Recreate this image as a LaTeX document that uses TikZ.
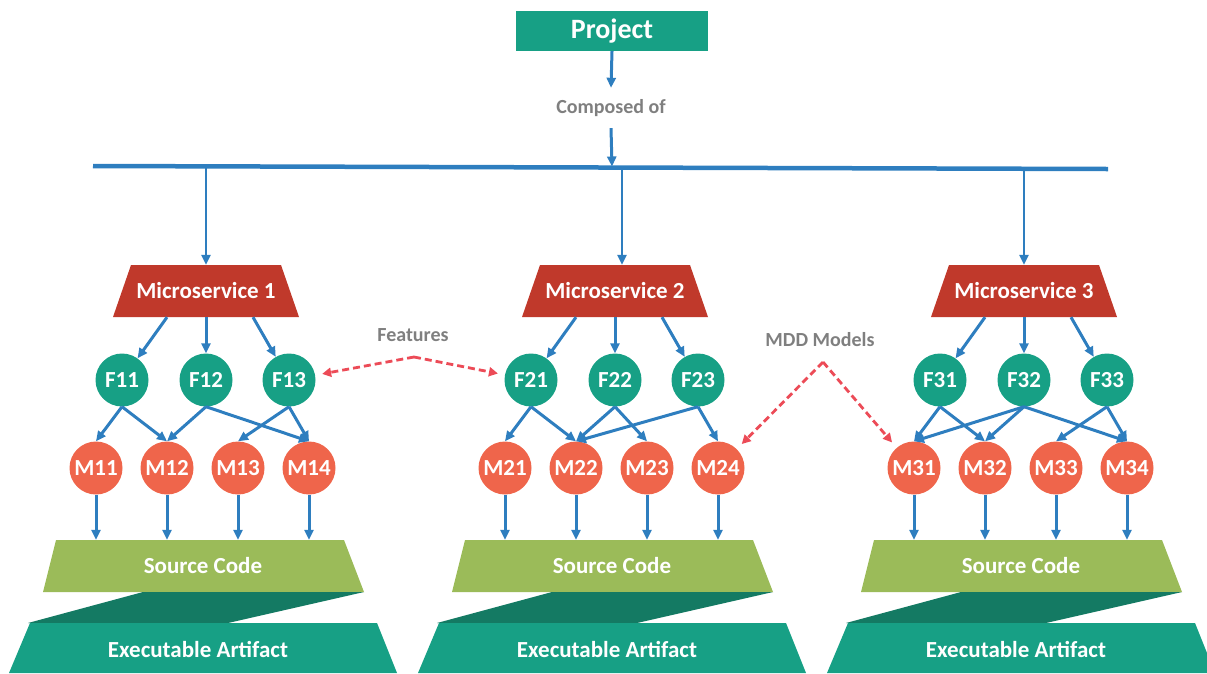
\documentclass[tikz,border=0pt]{standalone}
\usepackage{fontspec}
\setmainfont{Carlito}
\usetikzlibrary{arrows.meta,calc}

\definecolor{seagreen}{HTML}{17A085}
\definecolor{msred}{HTML}{C0392B}
\definecolor{coral}{HTML}{EF654B}
\definecolor{srcgreen}{HTML}{9BBB59}
\definecolor{bandgreen}{HTML}{147A63}
\definecolor{flow}{HTML}{2E7EBF}
\definecolor{note}{HTML}{EC4B57}
\definecolor{caption}{HTML}{7F7F7F}

\tikzset{
  flowarrow/.style={draw=flow, line width=3pt, -{Triangle[length=10pt,width=9pt]}},
  droparrow/.style={draw=flow, line width=2.6pt, -{Triangle[length=10pt,width=9pt]}},
  notearrow/.style={draw=note, line width=2.8pt, dash pattern=on 7pt off 4pt,
    -{Triangle[length=9pt,width=9pt]}, shorten >=7pt},
  whitetext/.style={text=white, font=\fontsize{23}{25}\selectfont\bfseries, inner sep=0pt},
  fcirc/.style={circle, fill=seagreen, minimum size=53pt, whitetext},
  mcirc/.style={circle, fill=coral, minimum size=53pt, whitetext},
  caption/.style={text=caption, font=\fontsize{20}{22}\selectfont\bfseries, inner sep=0pt},
}

% One microservice column: #1 = index, #2 = centre x
\newcommand\column[2]{%
  % microservice trapezoid
  \fill[msred] (#2-75,265) -- (#2+75,265) -- (#2+93,317) -- (#2-93,317) -- cycle;
  \node[whitetext, minimum width=150pt, minimum height=52pt] (ms#1) at (#2,291) {Microservice #1};
  % source code, hand-over band, executable artifact
  \fill[srcgreen] (#2-150,540) -- (#2+138,540) -- (#2+158,592) -- (#2-163,592) -- cycle;
  \fill[bandgreen] (#2-63,592) -- (#2+158,592) -- (#2+22,623) -- (#2-178,623) -- cycle;
  \fill[seagreen] (#2-176,623) -- (#2+171,623) -- (#2+191,673) -- (#2-197,673) -- cycle;
  \node[whitetext, minimum width=280pt, minimum height=52pt] (sc#1) at (#2-3,566) {Source Code};
  \node[whitetext] (ex#1) at (#2-8,649) {Executable Artifact};
  % features and models
  \node[fcirc] (f#11) at (#2-84,380) {F#11};
  \node[fcirc] (f#12) at (#2,380) {F#12};
  \node[fcirc] (f#13) at (#2+83,380) {F#13};
  \node[mcirc] (m#11) at (#2-110,468) {M#11};
  \node[mcirc] (m#12) at (#2-39,468) {M#12};
  \node[mcirc] (m#13) at (#2+32,468) {M#13};
  \node[mcirc] (m#14) at (#2+103,468) {M#14};
  % microservice to features
  \draw[flowarrow] ($(ms#1.south)+(-39,0)$) -- (f#11);
  \draw[flowarrow] (ms#1.south) -- (f#12);
  \draw[flowarrow] ($(ms#1.south)+(47,0)$) -- (f#13);
  % models to source code
  \foreach \k in {1,...,4}
    \draw[flowarrow] (m#1\k.south) -- (m#1\k.south |- sc#1.north);
}

\begin{document}
\begin{tikzpicture}[x=1pt,y=-1pt]
  \useasboundingbox (0,0) rectangle (1207,673);
  \clip (0,0) rectangle (1207,673);

  % project and composition bus
  \node[fill=seagreen, minimum width=192pt, minimum height=40pt, inner sep=0pt,
        text=white, font=\fontsize{28}{30}\selectfont\bfseries] (project) at (612,31) {Project};
  \node[caption, minimum height=40pt] (composed) at (611,108) {Composed of};
  \coordinate (busL) at (93,166);
  \coordinate (busR) at (1108,169);
  \coordinate (busC) at (612,166.5);
  \coordinate (bus1) at (206,167);
  \coordinate (bus2) at (622,167);
  \coordinate (bus3) at (1024,168);
  \draw[flow, line width=4.5pt] (busL) -- (busR);
  \draw[flowarrow] (project.south) -- (composed.north);
  \draw[flowarrow] (composed.south) -- (busC);

  \column{1}{206}
  \column{2}{615}
  \column{3}{1024}

  \draw[droparrow] (bus1) -- (bus1 |- ms1.north);
  \draw[droparrow] (bus2) -- (bus2 |- ms2.north);
  \draw[droparrow] (bus3) -- (bus3 |- ms3.north);

  % features to models
  \draw[flowarrow] (f11.south) -- (m11.north);
  \draw[flowarrow] (f11.south) -- (m12.north);
  \draw[flowarrow] (f12.south) -- (m12.north);
  \draw[flowarrow] (f12.south) -- (m14.north);
  \draw[flowarrow] (f13.south) -- (m13.north);
  \draw[flowarrow] (f13.south) -- (m14.north);

  \draw[flowarrow] (f21.south) -- (m21.north);
  \draw[flowarrow] (f21.south) -- (m22.north);
  \draw[flowarrow] (f22.south) -- (m22.north);
  \draw[flowarrow] (f22.south) -- (m23.north);
  \draw[flowarrow] (f23.south) -- (m22.north);
  \draw[flowarrow] (f23.south) -- (m24.north);

  \draw[flowarrow] (f31.south) -- (m31.north);
  \draw[flowarrow] (f31.south) -- (m32.north);
  \draw[flowarrow] (f32.south) -- (m31.north);
  \draw[flowarrow] (f32.south) -- (m32.north);
  \draw[flowarrow] (f32.south) -- (m34.north);
  \draw[flowarrow] (f33.south) -- (m33.north);
  \draw[flowarrow] (f33.south) -- (m34.north);

  % annotations
  \node[caption] (features) at (413,335) {Features};
  \coordinate (featpt) at (414,357);
  \draw[notearrow] (featpt) -- (f13);
  \draw[notearrow] (featpt) -- (f21);

  \node[caption] (mdd) at (820,340) {MDD Models};
  \coordinate (mddpt) at (823,362);
  \draw[notearrow] (mddpt) -- (m24);
  \draw[notearrow] (mddpt) -- (m31);
\end{tikzpicture}
\end{document}
